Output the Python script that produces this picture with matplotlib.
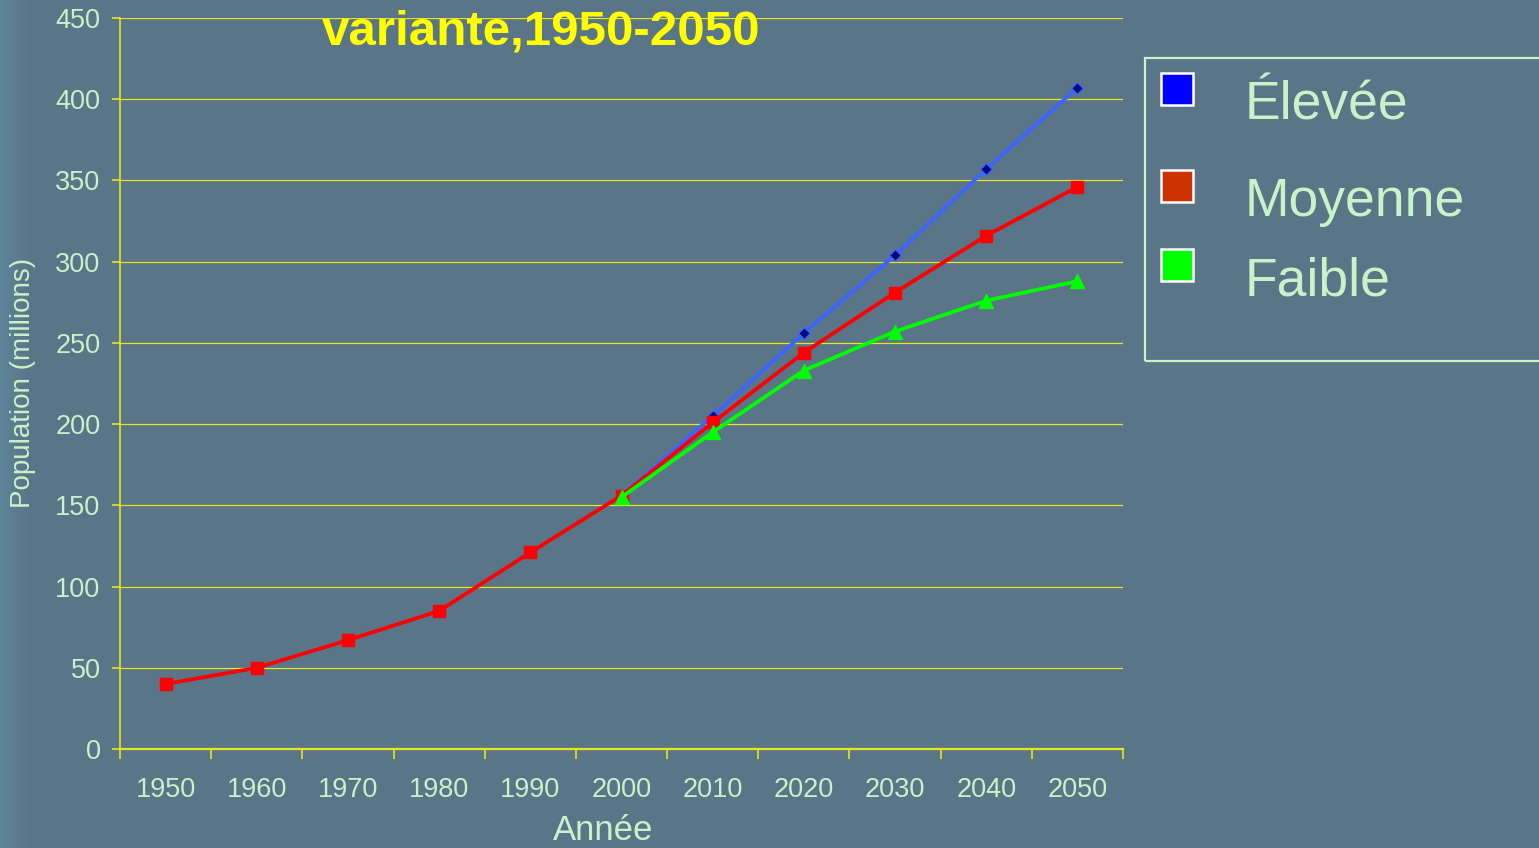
import matplotlib
matplotlib.use('Agg')
import matplotlib.pyplot as plt
import numpy as np
from matplotlib.patches import Rectangle

# ---------------- data ----------------
years = ['1950', '1960', '1970', '1980', '1990', '2000', '2010', '2020', '2030', '2040', '2050']
series_names = ['Élevée', 'Moyenne', 'Faible']
elevee = [np.nan, np.nan, np.nan, np.nan, np.nan, 156, 205, 256, 304, 357, 407]
moyenne = [40, 50, 67, 85, 121, 156, 201, 244, 281, 316, 346]
faible = [np.nan, np.nan, np.nan, np.nan, np.nan, 155, 195, 233, 257, 276, 288]
y_ticks = [0, 50, 100, 150, 200, 250, 300, 350, 400, 450]
title = 'variante,1950-2050'
xlabel = 'Année'
ylabel = 'Population (millions)'

W, H = 1539, 848
DPI = 100
fig = plt.figure(figsize=(W / DPI, H / DPI), dpi=DPI)
plt.rcParams['font.family'] = ['Liberation Sans', 'DejaVu Sans']

# background with light left edge gradient
bg = fig.add_axes([0, 0, 1, 1], zorder=-10)
xs = np.linspace(0, 1, W)
t = np.clip(xs * W / 30.0, 0, 1)
left = np.array([96, 132, 152]) / 255.0
base = np.array([90, 116, 136]) / 255.0
row = left[None, :] * (1 - t)[:, None] + base[None, :] * t[:, None]
img = np.repeat(row[None, :, :], 2, axis=0)
bg.imshow(img, aspect='auto', extent=[0, 1, 0, 1])
bg.set_axis_off()

txt_col = '#C8F2C8'
yel = '#E6E61E'

ax = fig.add_axes([120 / W, 1 - 749 / H, (1123 - 120) / W, (749 - 18) / H])
ax.set_facecolor('none')
x = np.arange(len(years))

ax.plot(x, elevee, color='#3A66FF', lw=2.7, marker='D', ms=6,
        mfc='#000A7A', mec='#3A66FF', mew=1.0, zorder=3, label=series_names[0])
ax.plot(x, moyenne, color='#FF0000', lw=2.7, marker='s', ms=8,
        mfc='#FF0000', mec='#FF0000', zorder=4, label=series_names[1])
ax.plot(x, faible, color='#00FF00', lw=2.7, marker='^', ms=10,
        mfc='#00FF00', mec='#00FF00', zorder=5, label=series_names[2])

ax.set_xlim(-0.5, len(years) - 0.5)
ax.set_ylim(0, 450)
ax.set_yticks(y_ticks)
ax.set_yticklabels([str(v) for v in y_ticks])
ax.set_xticks(x)
ax.set_xticklabels(years)
ax.set_xticks(np.arange(-0.5, len(years), 1.0), minor=True)

ax.yaxis.grid(True, color=yel, lw=0.9)
ax.set_axisbelow(True)

for s in ['top', 'right']:
    ax.spines[s].set_visible(False)
ax.spines['left'].set_color(yel)
ax.spines['left'].set_linewidth(1.2)
ax.spines['bottom'].set_color(yel)
ax.spines['bottom'].set_linewidth(1.6)

ax.tick_params(axis='x', which='major', length=0, pad=20.5, labelsize=19.5, labelcolor=txt_col)
ax.tick_params(axis='x', which='minor', length=7, width=1.2, color=yel, direction='out')
ax.tick_params(axis='y', length=6, width=1.2, color=yel, direction='out', pad=8,
               labelsize=19.5, labelcolor=txt_col)

fig.text(603 / W, 1 - 831 / H, xlabel, fontsize=25, color=txt_col, ha='center', va='center')
fig.text(23 / W, 1 - 383 / H, ylabel, fontsize=20, color=txt_col, ha='center', va='center',
         rotation=90)
fig.text(541 / W, 1 - 32 / H, title, fontsize=35.5, color='#FFFF00', fontweight='bold',
         ha='center', va='center')

# legend drawn manually
fig.patches.append(Rectangle((1145 / W, 1 - 361 / H), 420 / W, (361 - 58) / H,
                             transform=fig.transFigure, fill=False, edgecolor=txt_col,
                             lw=1.6, zorder=2))
patch_cols = ['#0000FF', '#CC3300', '#00FF00']
patch_tops = [73, 170, 249]
label_baselines = [120, 216, 296]
for name, c, top, bl in zip(series_names, patch_cols, patch_tops, label_baselines):
    fig.patches.append(Rectangle((1161 / W, 1 - (top + 32) / H), 32 / W, 32 / H,
                                 transform=fig.transFigure, facecolor=c, edgecolor='white',
                                 lw=1.8, zorder=3))
    fig.text(1245 / W, 1 - bl / H, name, fontsize=38.5, color=txt_col, ha='left', va='baseline')

fig.savefig('out.png', dpi=DPI)
